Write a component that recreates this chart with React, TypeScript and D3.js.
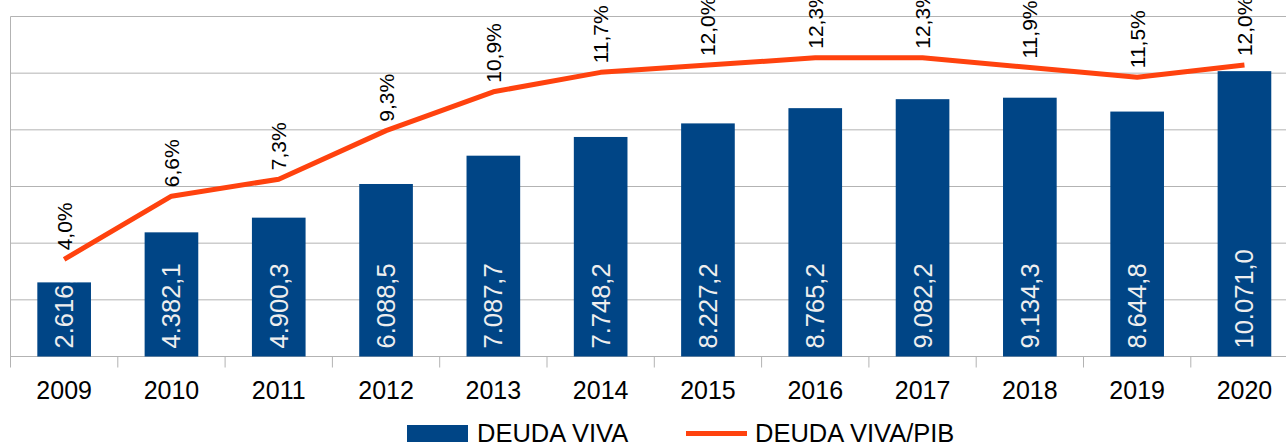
import React from "react";
import * as d3 from "d3";

const years = ["2009", "2010", "2011", "2012", "2013", "2014", "2015", "2016", "2017", "2018", "2019", "2020"];
const deudaViva = [2616.0, 4382.1, 4900.3, 6088.5, 7087.7, 7748.2, 8227.2, 8765.2, 9082.2, 9134.3, 8644.8, 10071.0];
const deudaPib = [4.0, 6.6, 7.3, 9.3, 10.9, 11.7, 12.0, 12.3, 12.3, 11.9, 11.5, 12.0];
const gridTicks = [0, 2000, 4000, 6000, 8000, 10000, 12000];

const W = 1286;
const H = 444;
const left = 10.5;
const top = 16.5;
const bottom = 356.5;
const band = 107.3;
const right = left + band * years.length;
const BAR = "#004586";
const LINE = "#ff420e";
const FONT = "'Liberation Sans', Arial, sans-serif";

const fmtBar = (v: number) => {
  const [i, d] = v.toFixed(1).split(".");
  return i.replace(/\B(?=(\d{3})+(?!\d))/g, ".") + "," + d;
};
const fmtPct = (v: number) => v.toFixed(1).replace(".", ",") + "%";

export default function App() {
  const x = d3.scaleBand<string>().domain(years).range([left, right]).paddingInner(0).paddingOuter(0);
  const y = d3.scaleLinear().domain([0, 12000]).range([bottom, top]);
  const y2 = d3.scaleLinear().domain([0, 14]).range([bottom, top]);
  const bw = x.bandwidth() * 0.5;
  const cx = (yr: string) => (x(yr) as number) + x.bandwidth() / 2;
  const line = d3
    .line<number>()
    .x((_, i) => cx(years[i]))
    .y((d) => y2(d));

  return (
    <svg width={W} height={H} style={{ position: "absolute", left: 0, top: 0 }}>
      <rect x={0} y={0} width={W} height={H} fill="#fff" />
      <defs>
        {years.map((yr, i) => (
          <clipPath id={`clip${i}`} key={yr}>
            <rect x={cx(yr) - bw / 2} y={y(deudaViva[i])} width={bw} height={bottom - y(deudaViva[i])} />
          </clipPath>
        ))}
      </defs>
      {gridTicks.map((t) => (
        <line key={t} x1={left} x2={W} y1={y(t)} y2={y(t)} stroke="#b3b3b3" strokeWidth={1} />
      ))}
      <line x1={left} x2={left} y1={top} y2={bottom + 11} stroke="#b3b3b3" strokeWidth={1} />
      {years.map((yr, i) =>
        i === 0 ? null : (
          <line key={yr} x1={x(yr) as number} x2={x(yr) as number} y1={bottom} y2={bottom + 11} stroke="#b3b3b3" strokeWidth={1} />
        )
      )}
      {years.map((yr, i) => (
        <rect key={yr} x={cx(yr) - bw / 2} y={y(deudaViva[i])} width={bw} height={bottom - y(deudaViva[i])} fill={BAR} />
      ))}
      {years.map((yr, i) => (
        <g key={yr} clipPath={`url(#clip${i})`}>
          <text
            transform={`translate(${cx(yr)},${bottom - 8}) rotate(-90)`}
            dominantBaseline="central"
            textAnchor="start"
            fontFamily={FONT}
            fontSize={25.5}
            fill="#eeeeee"
          >
            {fmtBar(deudaViva[i])}
          </text>
        </g>
      ))}
      <path d={line(deudaPib) || ""} fill="none" stroke={LINE} strokeWidth={5} strokeLinejoin="round" />
      {years.map((yr, i) => (
        <text
          key={yr}
          transform={`translate(${cx(yr)},${y2(deudaPib[i]) - 9}) rotate(-90)`}
          dominantBaseline="central"
          textAnchor="start"
          fontFamily={FONT}
          fontSize={21}
          fill="#000"
        >
          {fmtPct(deudaPib[i])}
        </text>
      ))}
      {years.map((yr) => (
        <text key={yr} x={cx(yr)} y={399} textAnchor="middle" fontFamily={FONT} fontSize={25} fill="#000">
          {yr}
        </text>
      ))}
      <rect x={407} y={425} width={61} height={17} fill={BAR} />
      <text x={477} y={442} fontFamily={FONT} fontSize={25.5} fill="#000">DEUDA VIVA</text>
      <line x1={686} x2={747} y1={433.5} y2={433.5} stroke={LINE} strokeWidth={5} />
      <text x={755} y={442} fontFamily={FONT} fontSize={25.5} fill="#000">DEUDA VIVA/PIB</text>
    </svg>
  );
}
